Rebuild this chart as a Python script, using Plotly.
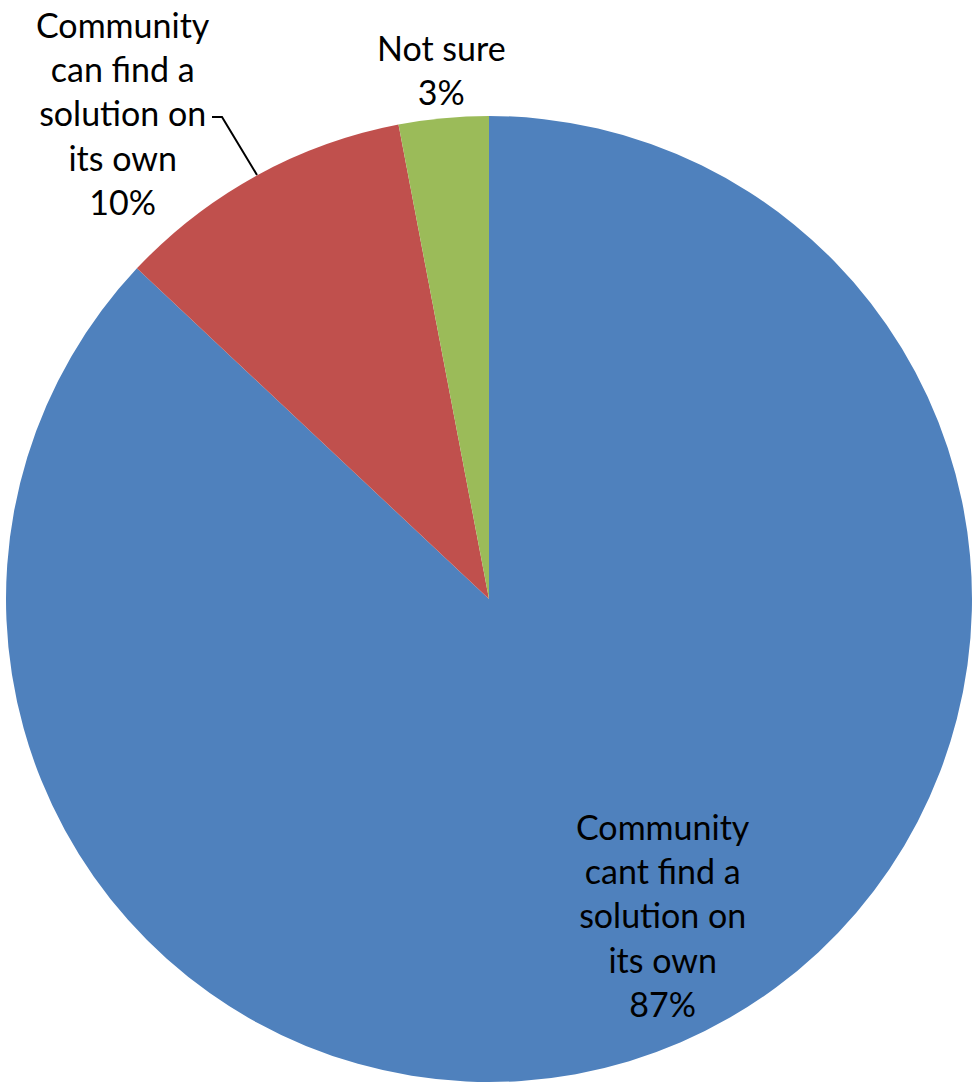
import plotly.graph_objects as go

# Survey responses
categories = [
    "Community cant find a solution on its own",
    "Community can find a solution on its own",
    "Not sure",
]
label_lines = [
    ["Community", "cant find a", "solution on", "its own"],
    ["Community", "can find a", "solution on", "its own"],
    ["Not sure"],
]
shares = [87, 10, 3]
colors = ["#4F81BD", "#C0504D", "#9BBB59"]

W, H = 975, 1086
FONT = dict(family="Lato, 'Open Sans', sans-serif", size=34, color="#000000")

fig = go.Figure(
    go.Pie(
        labels=categories,
        values=shares,
        marker=dict(colors=colors, line=dict(width=0)),
        sort=False,
        direction="clockwise",
        rotation=0,
        textinfo="none",
        hoverinfo="label+percent",
        showlegend=False,
        domain=dict(x=[6 / W, 972 / W], y=[1 - 1082 / H, 1 - 116 / H]),
    )
)

# Data labels placed around the pie (pixel centres)
label_pos = [(663, 915), (123, 113), (441, 69)]
for lines, val, (px, py) in zip(label_lines, shares, label_pos):
    fig.add_annotation(
        x=px / W, y=1 - py / H, xref="paper", yref="paper",
        text="<br>".join(lines + [f"{val}%"]),
        showarrow=False, font=FONT, align="center",
        xanchor="center", yanchor="middle",
    )

# Leader line for the 10% label
lx = [212, 222, 257]
ly = [117, 117, 175]
path = "M " + " L ".join(f"{x / W},{1 - y / H}" for x, y in zip(lx, ly))
fig.add_shape(type="path", path=path, xref="paper", yref="paper",
              line=dict(color="#000000", width=2))

fig.update_layout(
    width=W, height=H,
    margin=dict(l=0, r=0, t=0, b=0),
    paper_bgcolor="#FFFFFF",
    plot_bgcolor="#FFFFFF",
)

fig.write_html("out.html")
